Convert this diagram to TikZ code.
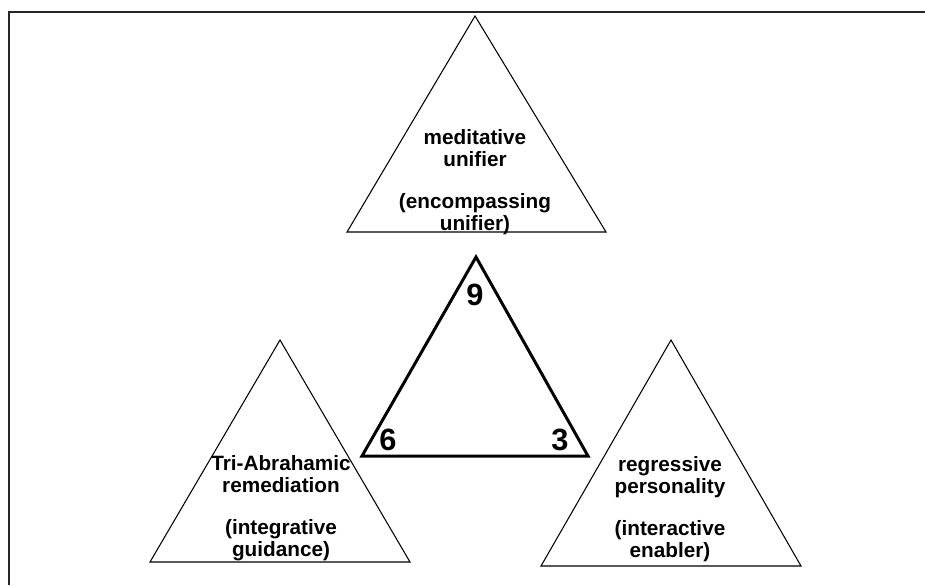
\documentclass[tikz,border=0pt]{standalone}
\usepackage{fontspec}
\setmainfont{Liberation Sans}
\usepackage{tikz}

\begin{document}
\begin{tikzpicture}[x=0.02cm, y=-0.02cm,
  side/.style={line width=0.6pt, line join=miter},
  core/.style={line width=1.7pt, line join=miter},
  tritext/.style={font=\bfseries\fontsize{11.8}{12.5}\selectfont, align=center, anchor=base, inner sep=0pt},
  digit/.style={font=\bfseries\fontsize{17.5}{20}\selectfont, anchor=base, inner sep=0pt}]

\useasboundingbox (0,0) rectangle (925,585);
\draw[line width=1.2pt, color=black!85] (9,585)--(9,12)--(925,12);

\draw[side] (475,16)--(606,232)--(347,232)--cycle;
\draw[side] (280,340)--(410,562)--(150,562)--cycle;
\draw[side] (671,340)--(801,566)--(541,566)--cycle;
\draw[core] (476,257)--(588,456)--(362,456)--cycle;

\node[tritext] (top) at (475,230) {meditative\\unifier\\[11pt](encompassing\\unifier)};
\node[tritext] (left) at (281,556) {Tri-Abrahamic\\remediation\\[11pt](integrative\\guidance)};
\node[tritext] (right) at (670,557) {regressive\\personality\\[11pt](interactive\\enabler)};

\node[digit] (nine) at (475,305) {9};
\node[digit] (six) at (388,450) {6};
\node[digit] (three) at (560,450) {3};

\end{tikzpicture}
\end{document}
